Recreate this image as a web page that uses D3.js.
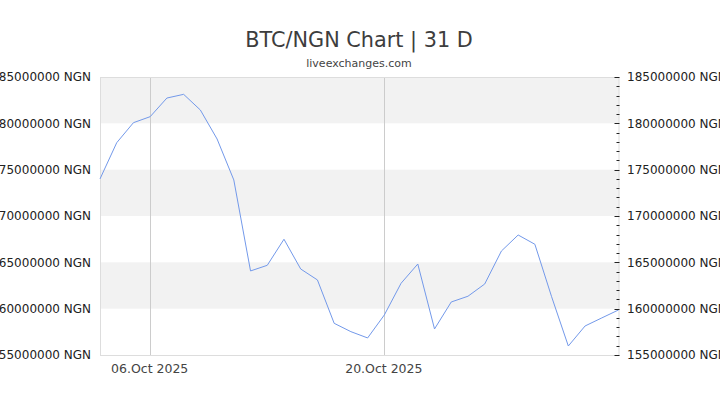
<!DOCTYPE html>
<html>
<head>
<meta charset="utf-8">
<script src="https://cdn.jsdelivr.net/npm/d3@7"></script>
<style>
html,body{margin:0;padding:0;background:#fff;}
svg{display:block;font-family:"DejaVu Sans",sans-serif;}
</style>
</head>
<body>
<svg id="chart" width="720" height="405"></svg>
<script>
const title = "BTC/NGN Chart | 31 D";
const subtitle = "liveexchanges.com";
const startDate = "2025-10-03";
const prices = [
  174000000, 177910000, 180070000, 180720000, 182730000, 183130000, 181440000, 178310000,
  173890000, 164070000, 164680000, 167490000, 164280000, 163100000, 158420000, 157520000,
  156840000, 159320000, 162740000, 164820000, 157810000, 160720000, 161340000, 162660000,
  166220000, 167950000, 166950000, 161290000, 155970000, 158130000, 159000000, 159860000
];
const yTicks = [155000000, 160000000, 165000000, 170000000, 175000000, 180000000, 185000000];
const xTickDates = ["2025-10-06", "2025-10-20"];
const currency = "NGN";

const parse = d3.timeParse("%Y-%m-%d");
const t0 = parse(startDate);
const data = prices.map((v, i) => ({date: d3.timeDay.offset(t0, i), value: v}));

const svg = d3.select("#chart");
const L = 100, R = 619.5, T = 77, B = 355;

const x = d3.scaleTime().domain(d3.extent(data, d => d.date)).range([L, R - 1]);
const y = d3.scaleLinear().domain([155000000, 185000000]).range([B, T]);

// Bands
const bands = d3.pairs(yTicks).filter((p, i) => i % 2 === 0);
svg.append("g").selectAll("rect").data(bands).join("rect")
  .attr("x", L).attr("width", R - L)
  .attr("y", d => y(d[1] + 5000000)).attr("height", d => y(d[0] + 5000000) - y(d[1] + 5000000))
  .attr("fill", "#f2f2f2");

// Vertical grid lines
const xt = xTickDates.map(parse);
svg.append("g").selectAll("line").data(xt).join("line")
  .attr("x1", d => Math.round(x(d)) + 0.5).attr("x2", d => Math.round(x(d)) + 0.5)
  .attr("y1", T).attr("y2", B)
  .attr("stroke", "#cccccc").attr("stroke-width", 1);

// Border
svg.append("rect").attr("x", L + 0.5).attr("y", T + 0.5).attr("width", R - L - 1).attr("height", B - T)
  .attr("fill", "none").attr("stroke", "#dddddd").attr("stroke-width", 1);

// Line
svg.append("path").datum(data)
  .attr("d", d3.line().x(d => x(d.date)).y(d => y(d.value)))
  .attr("fill", "none").attr("stroke", "#7399ea").attr("stroke-width", 1);

const fmt = d => d3.format("d")(d) + " " + currency;

// Left axis labels
const leftAxis = d3.axisLeft(y).tickValues(yTicks).tickFormat(fmt).tickSize(0).tickPadding(0);
const gl = svg.append("g").attr("transform", `translate(${91},0)`).call(leftAxis);
gl.select(".domain").remove();
gl.selectAll("text").attr("font-size", 12).attr("fill", "#222").attr("font-family", "DejaVu Sans");

// Right axis ticks (minor, inside)
const minor = d3.range(155000000, 185000001, 1000000);
svg.append("g").selectAll("line").data(minor).join("line")
  .attr("x1", d => (d % 5000000 === 0) ? R - 5 : R - 3).attr("x2", R)
  .attr("y1", d => Math.round(y(d)) + 0.5).attr("y2", d => Math.round(y(d)) + 0.5)
  .attr("stroke", "#222").attr("stroke-width", 1);

const rightAxis = d3.axisRight(y).tickValues(yTicks).tickFormat(fmt).tickSize(0).tickPadding(0);
const gr = svg.append("g").attr("transform", `translate(${627},0)`).call(rightAxis);
gr.select(".domain").remove();
gr.selectAll("text").attr("font-size", 12).attr("fill", "#222").attr("font-family", "DejaVu Sans");

// X axis labels
const xAxis = d3.axisBottom(x).tickValues(xt).tickFormat(d3.timeFormat("%d.%b %Y")).tickSize(0).tickPadding(0);
const gx = svg.append("g").attr("transform", `translate(-1,${364})`).call(xAxis);
gx.select(".domain").remove();
gx.selectAll("text").attr("font-size", 12.5).attr("fill", "#444").attr("font-family", "DejaVu Sans");

// Title
svg.append("text").attr("x", 359).attr("y", 47).attr("text-anchor", "middle")
  .attr("font-size", 20.8).attr("fill", "#3d3d3d").text(title);
svg.append("text").attr("x", 359).attr("y", 67).attr("text-anchor", "middle")
  .attr("font-size", 11).attr("fill", "#444").text(subtitle);
</script>
</body>
</html>
